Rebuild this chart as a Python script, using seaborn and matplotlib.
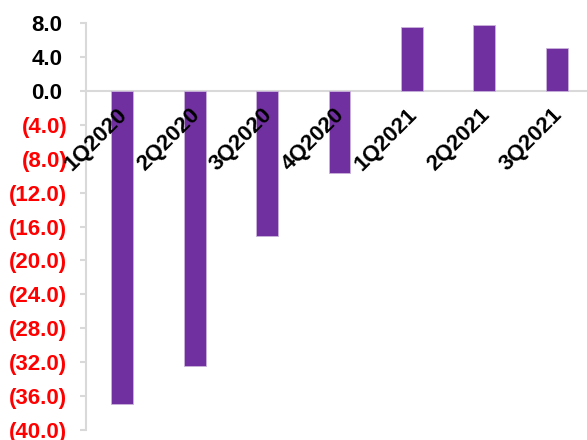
import matplotlib
matplotlib.use("Agg")
import matplotlib.pyplot as plt
import seaborn as sns
import pandas as pd
from matplotlib.transforms import ScaledTranslation

categories = ["1Q2020", "2Q2020", "3Q2020", "4Q2020", "1Q2021", "2Q2021", "3Q2021"]
values = [-36.9, -32.5, -17.1, -9.7, 7.5, 7.8, 5.1]
yticks = [8.0, 4.0, 0.0, -4.0, -8.0, -12.0, -16.0, -20.0, -24.0, -28.0, -32.0, -36.0, -40.0]

sns.set_theme(style="white")
plt.rcParams["font.family"] = ["Liberation Sans", "DejaVu Sans"]

df = pd.DataFrame({"quarter": categories, "value": values})

fig = plt.figure(figsize=(5.87, 4.40), dpi=100)
ax = fig.add_axes([86 / 587, 10 / 440, 507 / 587, 407 / 440])

sns.barplot(data=df, x="quarter", y="value", color="#7030A0", width=0.3,
            saturation=1, edgecolor="#C9B3DC", linewidth=0.6, ax=ax)
for p in ax.patches:
    p.set_zorder(1)

ax.set_ylim(-40, 8)
ax.set_xlim(-0.5, len(categories) - 0.5)
ax.set_xlabel("")
ax.set_ylabel("")
ax.set_axisbelow(False)
ax.xaxis.set_zorder(5)

for s in ["top", "right"]:
    ax.spines[s].set_visible(False)
ax.spines["left"].set_color("#D9D9D9")
ax.spines["left"].set_linewidth(1.5)
ax.spines["bottom"].set_position(("data", 0))
ax.spines["bottom"].set_color("#D9D9D9")
ax.spines["bottom"].set_linewidth(1.5)
ax.spines["bottom"].set_zorder(0.5)

def fmt(v):
    return f"({abs(v):.1f})" if v < 0 else f"{v:.1f}"

ax.set_yticks(yticks)
ax.set_yticklabels([fmt(v) for v in yticks])
ax.tick_params(axis="y", which="major", left=True, length=4.5, width=1.5,
               color="#D9D9D9", pad=9, labelsize=16)
for lab, v in zip(ax.get_yticklabels(), yticks):
    lab.set_fontweight("bold")
    lab.set_color("red" if v < 0 else "black")
    if v >= 0:
        lab.set_transform(lab.get_transform() + ScaledTranslation(-5 / 100, 0, fig.dpi_scale_trans))

ax.tick_params(axis="x", which="major", bottom=False, length=0, pad=15, labelsize=16)
for lab in ax.get_xticklabels():
    lab.set_rotation(45)
    lab.set_ha("right")
    lab.set_va("center")
    lab.set_rotation_mode("anchor")
    lab.set_fontweight("bold")
    lab.set_color("black")
    lab.set_transform(lab.get_transform() + ScaledTranslation(2 / 100, 0, fig.dpi_scale_trans))

fig.savefig("out.png", dpi=100)
